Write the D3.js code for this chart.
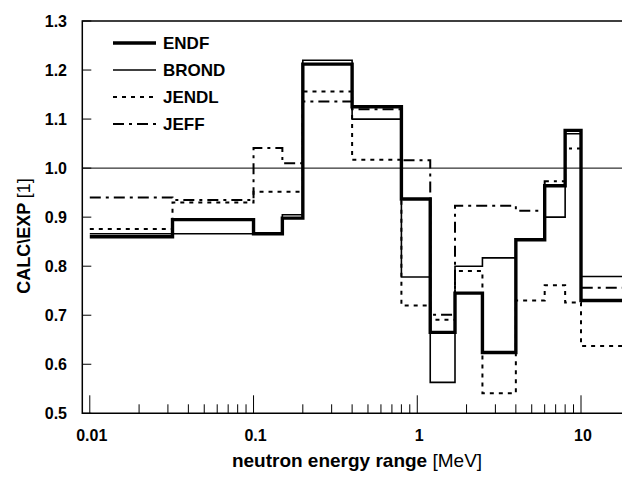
<!DOCTYPE html>
<html>
<head>
<meta charset="utf-8">
<script src="https://cdn.jsdelivr.net/npm/d3@7"></script>
<style>
  html, body { margin: 0; padding: 0; background: #fff; }
  svg { display: block; font-family: "Liberation Sans", Arial, sans-serif; }
</style>
</head>
<body>
<svg id="chart" width="622" height="477"></svg>
<script>
// Energy bin edges [MeV]
const edges = [0.01, 0.032, 0.1, 0.15, 0.2, 0.4, 0.8, 1.2, 1.7, 2.5, 4, 6, 8, 10, 20];
// C/E per bin
const endf  = [0.860, 0.895, 0.866, 0.898, 1.212, 1.125, 0.937, 0.665, 0.745, 0.624, 0.854, 0.964, 1.077, 0.730];
const brond = [0.866, 0.866, 0.866, 0.905, 1.220, 1.100, 0.778, 0.563, 0.800, 0.817, 0.854, 0.900, 1.070, 0.779];
const jendl = [0.876, 0.930, 0.952, 0.952, 1.156, 1.017, 0.720, 0.691, 0.790, 0.541, 0.730, 0.761, 0.726, 0.637];
const jeff  = [0.940, 0.935, 1.041, 1.010, 1.136, 1.120, 1.016, 0.701, 0.923, 0.923, 0.913, 0.973, 1.040, 0.756];
const seriesNames = ["ENDF", "BROND", "JENDL", "JEFF"];
const yTicks = [0.5, 0.6, 0.7, 0.8, 0.9, 1.0, 1.1, 1.2, 1.3];
const xMajor = [0.01, 0.1, 1, 10];
const xMajorLabels = ["0.01", "0.1", "1", "10"];

(function () {
const svg = d3.select("#chart");
const pl = 82.3, pr = 630.3, pt = 21, pb = 413.3;

const x = d3.scaleLog().domain([0.009, 20]).range([pl, pr]);
const y = d3.scaleLinear().domain([0.5, 1.3]).range([pb, pt]);

svg.append("defs").append("clipPath").attr("id", "clip")
  .append("rect").attr("x", pl).attr("y", pt).attr("width", pr - pl).attr("height", pb - pt);

// reference line at 1.0
svg.append("line")
  .attr("x1", pl).attr("x2", 622).attr("y1", y(1.0)).attr("y2", y(1.0))
  .attr("stroke", "#000").attr("stroke-width", 1);

// series
const styles = {
  ENDF:  { data: endf,  width: 3.4, dash: null },
  BROND: { data: brond, width: 1.6, dash: null },
  JENDL: { data: jendl, width: 2,   dash: "4,5" },
  JEFF:  { data: jeff,  width: 2,   dash: "11,5,3,5" }
};
const line = d3.line().x(d => x(d[0])).y(d => y(d[1])).curve(d3.curveStepAfter);
function pts(vals) {
  const p = vals.map((v, i) => [edges[i], v]);
  p.push([edges[edges.length - 1], vals[vals.length - 1]]);
  return p;
}
const g = svg.append("g").attr("clip-path", "url(#clip)");
["JENDL", "JEFF", "BROND", "ENDF"].forEach(name => {
  const s = styles[name];
  g.append("path")
    .attr("d", line(pts(s.data)))
    .attr("fill", "none")
    .attr("stroke", "#000")
    .attr("stroke-width", s.width)
    .attr("stroke-dasharray", s.dash)
    .attr("stroke-linejoin", "miter")
    .attr("stroke-linecap", "butt");
});

// frame
svg.append("path")
  .attr("d", `M${622},${pt}H${pl}V${pb}H${622}`)
  .attr("fill", "none").attr("stroke", "#000").attr("stroke-width", 1.5);

// y ticks (inside)
const yAxis = svg.append("g");
yTicks.forEach(t => {
  yAxis.append("line").attr("x1", pl).attr("x2", pl + 9)
    .attr("y1", y(t)).attr("y2", y(t)).attr("stroke", "#000").attr("stroke-width", 1);
  yAxis.append("text").attr("x", 67).attr("y", y(t)).attr("dy", "0.36em")
    .attr("text-anchor", "end").attr("font-size", 16).attr("font-weight", "bold")
    .text(t.toFixed(1));
});

// x ticks (inside)
const xAxis = svg.append("g");
const minor = [];
[0.01, 0.1, 1, 10].forEach(d => { for (let k = 2; k <= 9; k++) minor.push(d * k); });
minor.forEach(t => {
  if (x(t) > 622) return;
  xAxis.append("line").attr("x1", x(t)).attr("x2", x(t))
    .attr("y1", pb).attr("y2", pb - 9).attr("stroke", "#000").attr("stroke-width", 1);
});
xMajor.forEach((t, i) => {
  xAxis.append("line").attr("x1", x(t)).attr("x2", x(t))
    .attr("y1", pb).attr("y2", pb - 18).attr("stroke", "#000").attr("stroke-width", 1);
  xAxis.append("text").attr("x", x(t) + 2).attr("y", 441)
    .attr("text-anchor", "middle").attr("font-size", 16).attr("font-weight", "bold")
    .text(xMajorLabels[i]);
});

// axis titles
const xt = svg.append("text").attr("x", 357).attr("y", 467).attr("text-anchor", "middle").attr("font-size", 19);
xt.append("tspan").attr("font-weight", "bold").text("neutron energy range ");
xt.append("tspan").text("[MeV]");

const yt = svg.append("text").attr("transform", "translate(30,236) rotate(-90)")
  .attr("text-anchor", "middle").attr("font-size", 18);
yt.append("tspan").attr("font-weight", "bold").text("CALC\\EXP ");
yt.append("tspan").text("[1]");

// legend
const legY = [43, 70, 97, 124];
seriesNames.forEach((name, i) => {
  const s = styles[name];
  svg.append("line").attr("x1", 113).attr("x2", 156)
    .attr("y1", legY[i]).attr("y2", legY[i])
    .attr("stroke", "#000").attr("stroke-width", s.width)
    .attr("stroke-dasharray", s.dash);
  svg.append("text").attr("x", 163).attr("y", legY[i]).attr("dy", "0.36em")
    .attr("font-size", 17).attr("font-weight", "bold").text(name);
});
})();
</script>
</body>
</html>
